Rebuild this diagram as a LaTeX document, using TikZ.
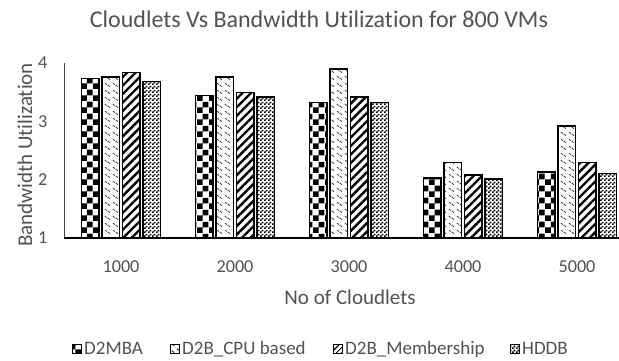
\documentclass[tikz,border=0pt]{standalone}
\usepackage{fontspec}
\setmainfont{Carlito}[Ligatures={NoCommon}]
\usetikzlibrary{patterns,patterns.meta}
\pgfdeclarepatternformonly{bigcheck}{\pgfpointorigin}{\pgfqpoint{11.6pt}{11.6pt}}{\pgfqpoint{11.6pt}{11.6pt}}{%
  \pgfpathrectangle{\pgfpointorigin}{\pgfqpoint{5.8pt}{5.8pt}}%
  \pgfpathrectangle{\pgfqpoint{5.8pt}{5.8pt}}{\pgfqpoint{5.8pt}{5.8pt}}%
  \pgfusepath{fill}}
\pgfdeclarepatternformonly{smallcheck}{\pgfpointorigin}{\pgfqpoint{4pt}{4pt}}{\pgfqpoint{4pt}{4pt}}{%
  \pgfpathrectangle{\pgfpointorigin}{\pgfqpoint{2pt}{2pt}}%
  \pgfpathrectangle{\pgfqpoint{2pt}{2pt}}{\pgfqpoint{2pt}{2pt}}%
  \pgfusepath{fill}}
\pgfdeclarepatternformonly{cpudash}{\pgfpointorigin}{\pgfqpoint{8pt}{7pt}}{\pgfqpoint{8pt}{7pt}}{%
  \pgfsetlinewidth{0.9pt}%
  \pgfpathmoveto{\pgfqpoint{1pt}{5.5pt}}\pgfpathlineto{\pgfqpoint{3pt}{4pt}}%
  \pgfpathmoveto{\pgfqpoint{4pt}{3.5pt}}\pgfpathlineto{\pgfqpoint{6.5pt}{1.5pt}}%
  \pgfusepath{stroke}}
\tikzset{
  txt/.style={text=black!68, inner sep=0pt},
  ticklab/.style={txt, font=\fontsize{18.2}{21}\selectfont},
  axtitle/.style={txt, font=\fontsize{21}{24}\selectfont},
  legtext/.style={txt, font=\fontsize{19}{22}\selectfont, anchor=base west},
  barbase/.style={draw=black, line width=1.3pt},
  barA/.style={barbase, pattern=bigcheck},
  barB/.style={barbase, pattern=cpudash, pattern color=black!75},
  barC/.style={barbase, pattern={Lines[angle=45,distance=6pt,line width=2.4pt]}},
  barD/.style={barbase, pattern=smallcheck},
  swatch/.style={draw=black, line width=0.8pt},
}
\begin{document}
\begin{tikzpicture}[x=1pt,y=1pt]
\useasboundingbox (0,0) rectangle (619,361);
\fill[white] (0,0) rectangle (619,361);
% title
\node[txt, font=\fontsize{24}{28}\selectfont] (title) at (319,341.5) {Cloudlets Vs Bandwidth Utilization for 800 VMs};
% bars
\def\hw{8.75}
\foreach \g/\lab/\a/\b/\c/\d in {0/1000/3.73/3.76/3.84/3.69, 1/2000/3.45/3.76/3.50/3.42, 2/3000/3.33/3.90/3.42/3.32, 3/4000/2.03/2.29/2.08/2.01, 4/5000/2.13/2.92/2.30/2.11}{
  \pgfmathsetmacro\cx{121+114*\g}
  \draw[barA] (\cx-30.75-\hw,123) rectangle (\cx-30.75+\hw,{123+(\a-1)*58.3});
  \draw[barB] (\cx-10.25-\hw,123) rectangle (\cx-10.25+\hw,{123+(\b-1)*58.3});
  \draw[barC] (\cx+10.25-\hw,123) rectangle (\cx+10.25+\hw,{123+(\c-1)*58.3});
  \draw[barD] (\cx+30.75-\hw,123) rectangle (\cx+30.75+\hw,{123+(\d-1)*58.3});
  \node[ticklab] (x\g) at (\cx,94) {\lab};
}
% axes
\coordinate (ytop) at (64,298);
\coordinate (orig) at (64,123);
\coordinate (xend) at (619,123);
\draw[line width=0.8pt, black!75] (ytop) -- (orig);
\draw[line width=1.3pt, black] (orig) -- (xend);
\foreach \v in {1,2,3,4}{
  \node[ticklab, anchor=east] (y\v) at (47.5,{123+(\v-1)*58.3}) {\v};
}
\node[axtitle, rotate=90] (ytitle) at (25,206) {Bandwidth Utilization};
\node[axtitle] (xtitle) at (350,64) {No of Cloudlets};
% legend
\def\ly{6}
\draw[swatch, pattern=bigcheck] (72,7.5) rectangle ++(9,9);
\node[legtext] (l1) at (84,\ly) {D2MBA};
\draw[swatch, pattern=cpudash] (170,7.5) rectangle ++(9,9);
\node[legtext] (l2) at (182,\ly) {D2B\_CPU based};
\draw[swatch, pattern={Lines[angle=45,distance=4pt,line width=1.5pt]}] (333,7.5) rectangle ++(9,9);
\node[legtext] (l3) at (345,\ly) {D2B\_Membership};
\draw[swatch, pattern=smallcheck] (510,7.5) rectangle ++(9,9);
\node[legtext] (l4) at (522,\ly) {HDDB};
\end{tikzpicture}
\end{document}
